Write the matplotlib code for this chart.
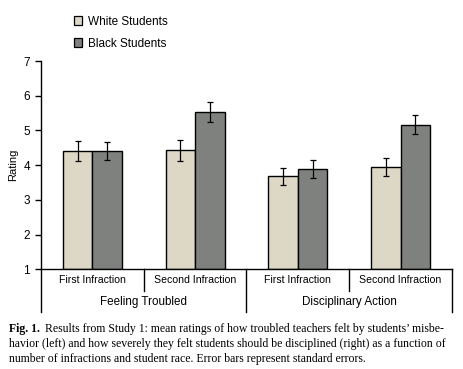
import matplotlib
matplotlib.use('Agg')
import matplotlib.pyplot as plt
from matplotlib.patches import Patch

# data
groups = ['First Infraction', 'Second Infraction', 'First Infraction', 'Second Infraction']
measures = ['Feeling Troubled', 'Disciplinary Action']
white_mean = [4.40, 4.43, 3.68, 3.94]
white_se = [0.29, 0.30, 0.25, 0.26]
black_mean = [4.40, 5.52, 3.88, 5.17]
black_se = [0.26, 0.29, 0.26, 0.28]

W = 464
H = 369
SANS = ['Liberation Sans', 'DejaVu Sans']
WHITE_C = '#ddd8c6'
BLACK_C = '#7f817f'

fig = plt.figure(figsize=(W / 100, H / 100), dpi=100)
ax = fig.add_axes([41 / W, 1 - 269.3 / H, (452 - 41) / W, (269.3 - 61) / H])

x = list(range(len(groups)))
bw = 0.286
ax.bar([i - bw / 2 for i in x], [m - 1 for m in white_mean], bw, bottom=1,
       color=WHITE_C, edgecolor='black', linewidth=1.0,
       yerr=white_se, error_kw=dict(ecolor='black', elinewidth=0.9, capsize=2.5, capthick=0.9))
ax.bar([i + bw / 2 for i in x], [m - 1 for m in black_mean], bw, bottom=1,
       color=BLACK_C, edgecolor='black', linewidth=1.0,
       yerr=black_se, error_kw=dict(ecolor='black', elinewidth=0.9, capsize=2.5, capthick=0.9))

ax.set_xlim(-0.5, len(groups) - 0.5)
ax.set_ylim(1, 7)
ax.set_yticks(range(1, 8))
ax.set_xticks([])
for s in ['top', 'right']:
    ax.spines[s].set_visible(False)
ax.spines['left'].set_linewidth(1.0)
ax.spines['bottom'].set_linewidth(1.0)
ax.tick_params(axis='y', direction='out', length=4, width=1.0, labelsize=8.5, pad=4)
for lab in ax.get_yticklabels():
    lab.set_family(SANS)
ax.set_ylabel('Rating', family=SANS, fontsize=8)
ax.yaxis.set_label_coords((18 - 41) / (452 - 41), 0.5)

# table-like category labels below the axis
tr = ax.get_xaxis_transform()
short_y = -0.103
long_y = -0.204
for b in [-0.5, 1.5, 3.5]:
    ax.plot([b, b], [0, long_y], color='black', lw=1.0, transform=tr, clip_on=False)
for b in [0.5, 2.5]:
    ax.plot([b, b], [0, short_y], color='black', lw=1.0, transform=tr, clip_on=False)
for i, g in enumerate(groups):
    ax.text(i, -0.051, g, transform=tr, ha='center', va='center', family=SANS, fontsize=7.6)
for j, m in enumerate(measures):
    ax.text(0.5 + 2 * j, -0.158, m, transform=tr, ha='center', va='center', family=SANS, fontsize=8.4)

handles = [Patch(facecolor=WHITE_C, edgecolor='black', lw=0.9, label='White Students'),
           Patch(facecolor=BLACK_C, edgecolor='black', lw=0.9, label='Black Students')]
fig.legend(handles=handles, loc='upper left', bbox_to_anchor=(63 / W, 1 - 5 / H),
           frameon=False, handlelength=0.75, handleheight=0.75, handletextpad=0.5,
           labelspacing=0.85, prop=dict(family=SANS, size=8.5))

# caption
cap = dict(family='Liberation Serif', fontsize=8.5, va='center', ha='left')
fig.text(9 / W, 1 - 329 / H, 'Fig. 1.', fontweight='bold', **cap)
fig.text(45 / W, 1 - 329 / H,
         "Results from Study 1: mean ratings of how troubled teachers felt by students\u2019 misbe-", **cap)
fig.text(9 / W, 1 - 344.5 / H,
         "havior (left) and how severely they felt students should be disciplined (right) as a function of", **cap)
fig.text(9 / W, 1 - 359 / H,
         "number of infractions and student race. Error bars represent standard errors.", **cap)

fig.savefig('out.png', dpi=100)
